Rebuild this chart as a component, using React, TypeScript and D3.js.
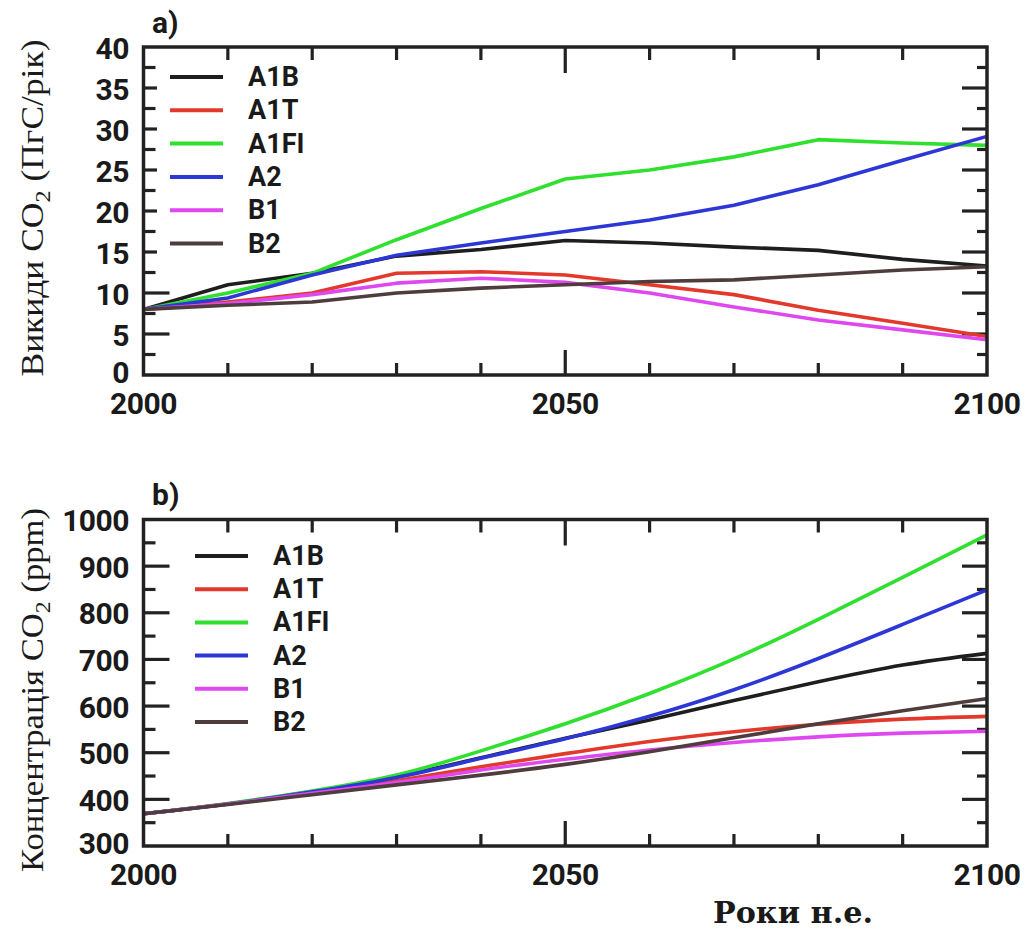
import React from 'react';
import * as d3 from 'd3';

const years = [2000, 2010, 2020, 2030, 2040, 2050, 2060, 2070, 2080, 2090, 2100];
const scenarioNames = ['A1B', 'A1T', 'A1FI', 'A2', 'B1', 'B2'];
const scenarioColors = ['#1e1e1e', '#e3392c', '#2fe02f', '#2c37d6', '#e048ef', '#4f3d3d'];

// a) CO2 emissions, GtC/yr
const emA1B = [8.0, 11.0, 12.4, 14.5, 15.3, 16.4, 16.1, 15.6, 15.2, 14.1, 13.3];
const emA1T = [8.0, 8.9, 10.0, 12.4, 12.6, 12.2, 11.0, 9.8, 7.9, 6.3, 4.7];
const emA1FI = [8.0, 10.0, 12.4, 16.5, 20.3, 23.9, 25.0, 26.6, 28.7, 28.3, 28.0];
const emA2 = [8.0, 9.4, 12.2, 14.6, 16.1, 17.5, 18.9, 20.7, 23.2, 26.2, 29.1];
const emB1 = [8.0, 8.7, 9.8, 11.2, 11.8, 11.3, 10.0, 8.3, 6.7, 5.5, 4.3];
const emB2 = [8.0, 8.5, 8.9, 10.0, 10.6, 11.0, 11.4, 11.6, 12.2, 12.8, 13.2];

// b) CO2 concentration, ppm
const coA1B = [369, 390, 417, 449, 489, 531, 570, 612, 652, 688, 713];
const coA1T = [369, 390, 414, 440, 470, 498, 524, 545, 561, 572, 578];
const coA1FI = [369, 391, 418, 452, 504, 562, 627, 701, 786, 876, 967];
const coA2 = [369, 390, 416, 447, 488, 530, 578, 635, 702, 775, 849];
const coB1 = [369, 390, 413, 436, 463, 486, 506, 522, 534, 542, 546];
const coB2 = [369, 389, 410, 431, 452, 475, 502, 532, 562, 590, 616];

const xTickLabels = [2000, 2050, 2100];
const emTickLabels = [0, 5, 10, 15, 20, 25, 30, 35, 40];
const coTickLabels = [300, 400, 500, 600, 700, 800, 900, 1000];

const X0 = 143.5;
const X1 = 987;
const SANS = 'Roboto, "Open Sans", "DejaVu Sans", sans-serif';
const SERIF = '"Liberation Serif", "DejaVu Serif", serif';

type PanelProps = {
  top: number;
  bottom: number;
  domain: [number, number];
  majorStep: number;
  minorStep: number;
  tickLabels: number[];
  series: number[][];
  curve: d3.CurveFactory;
  panelLabel: string;
  panelLabelY: number;
  titleMain: string;
  titleTail: string;
  titleCenter: number;
  titleLength: number;
  legendX: number;
  legendY0: number;
  legendDy: number;
  legendBox: boolean;
};

function Panel(p: PanelProps) {
  const x = d3.scaleLinear().domain([2000, 2100]).range([X0, X1]);
  const y = d3.scaleLinear().domain(p.domain).range([p.bottom, p.top]);
  const line = d3
    .line<number>()
    .x((_, i) => x(years[i]))
    .y((d) => y(d))
    .curve(p.curve);
  const yTicks = d3.range(p.domain[0] + p.minorStep, p.domain[1] - 1e-9, p.minorStep);
  const isMajor = (v: number) => Math.abs(v / p.majorStep - Math.round(v / p.majorStep)) < 1e-6;
  const xTicks = d3.range(2010, 2100, 10);
  const stroke = '#222';
  return (
    <g>
      {yTicks.map((v) => (
        <g key={'y' + v}>
          <line x1={X0} x2={X0 + (isMajor(v) ? 26 : 12)} y1={y(v)} y2={y(v)} stroke={stroke} strokeWidth={3.2} />
          <line x1={X1} x2={X1 - (isMajor(v) ? 25 : 10)} y1={y(v)} y2={y(v)} stroke={stroke} strokeWidth={3.2} />
        </g>
      ))}
      {xTicks.map((t) => (
        <g key={'x' + t}>
          <line x1={x(t)} x2={x(t)} y1={p.top} y2={p.top + (t === 2050 ? 26 : 13)} stroke={stroke} strokeWidth={3.2} />
          <line x1={x(t)} x2={x(t)} y1={p.bottom} y2={p.bottom - (t === 2050 ? 25 : 12)} stroke={stroke} strokeWidth={3.2} />
        </g>
      ))}
      {p.legendBox && <rect x={X0 + 13.5} y={p.top + 14} width={190} height={200} fill="#fff" />}
      {p.series.map((s, i) => (
        <path key={'s' + i} d={line(s) || ''} fill="none" stroke={scenarioColors[i]} strokeWidth={3.6} strokeLinejoin="round" />
      ))}
      <rect x={X0} y={p.top} width={X1 - X0} height={p.bottom - p.top} fill="none" stroke={stroke} strokeWidth={3.5} />
      {scenarioNames.map((n, i) => {
        const ly = p.legendY0 + i * p.legendDy;
        return (
          <g key={'l' + n}>
            <line x1={p.legendX} x2={p.legendX + 53} y1={ly} y2={ly} stroke={scenarioColors[i]} strokeWidth={4} />
            <text x={p.legendX + 78} y={ly} dominantBaseline="central" fontFamily={SANS} fontWeight={700} fontSize={27} fill="#1a1a1a">
              {n}
            </text>
          </g>
        );
      })}
      {p.tickLabels.map((v) => (
        <text key={'yl' + v} x={129} y={y(v) + (v === p.domain[0] ? -3 : 1)} textAnchor="end" dominantBaseline="central" fontFamily={SANS} fontWeight={700} fontSize={30} fill="#1a1a1a" letterSpacing={-0.5}>
          {v}
        </text>
      ))}
      {xTickLabels.map((t) => (
        <text key={'xl' + t} x={x(t)} y={p.bottom + 28} textAnchor="middle" dominantBaseline="central" fontFamily={SANS} fontWeight={700} fontSize={30} fill="#1a1a1a" letterSpacing={-0.5}>
          {t}
        </text>
      ))}
      <text x={152} y={p.panelLabelY} fontFamily={SANS} fontWeight={700} fontSize={30} fill="#1a1a1a">
        {p.panelLabel}
      </text>
      <text
        transform={`translate(43, ${p.titleCenter}) rotate(-90)`}
        textAnchor="middle"
        fontFamily={SERIF}
        fontSize={32}
        fill="#1a1a1a"
        textLength={p.titleLength}
        lengthAdjust="spacingAndGlyphs"
      >
        {p.titleMain}
        <tspan dy={7} fontSize={22}>2</tspan>
        <tspan dy={-7}>{p.titleTail}</tspan>
      </text>
    </g>
  );
}

export default function App() {
  return (
    <svg width={1036} height={931} style={{ position: 'absolute', left: 0, top: 0, background: '#fff' }}>
      <rect x={0} y={0} width={1036} height={931} fill="#fff" />
      <Panel
        top={47}
        bottom={375}
        domain={[0, 40]}
        majorStep={5}
        minorStep={2.5}
        tickLabels={emTickLabels}
        series={[emA1B, emA1T, emA1FI, emA2, emB1, emB2]}
        curve={d3.curveLinear}
        panelLabel="a)"
        panelLabelY={33}
        titleMain="Викиди CO"
        titleTail=" (ПгС/рік)"
        titleCenter={208}
        titleLength={337}
        legendX={170}
        legendY0={77}
        legendDy={33.3}
        legendBox={true}
      />
      <Panel
        top={519.5}
        bottom={846}
        domain={[300, 1000]}
        majorStep={100}
        minorStep={50}
        tickLabels={coTickLabels}
        series={[coA1B, coA1T, coA1FI, coA2, coB1, coB2]}
        curve={d3.curveNatural}
        panelLabel="b)"
        panelLabelY={505}
        titleMain="Концентрація CO"
        titleTail=" (ppm)"
        titleCenter={690}
        titleLength={364}
        legendX={195}
        legendY0={556}
        legendDy={33.2}
        legendBox={false}
      />
      <text x={713} y={923} fontFamily={'"DejaVu Serif", serif'} fontWeight={700} fontSize={30} fill="#1a1a1a" textLength={160} lengthAdjust="spacingAndGlyphs">
        Роки н.е.
      </text>
    </svg>
  );
}
